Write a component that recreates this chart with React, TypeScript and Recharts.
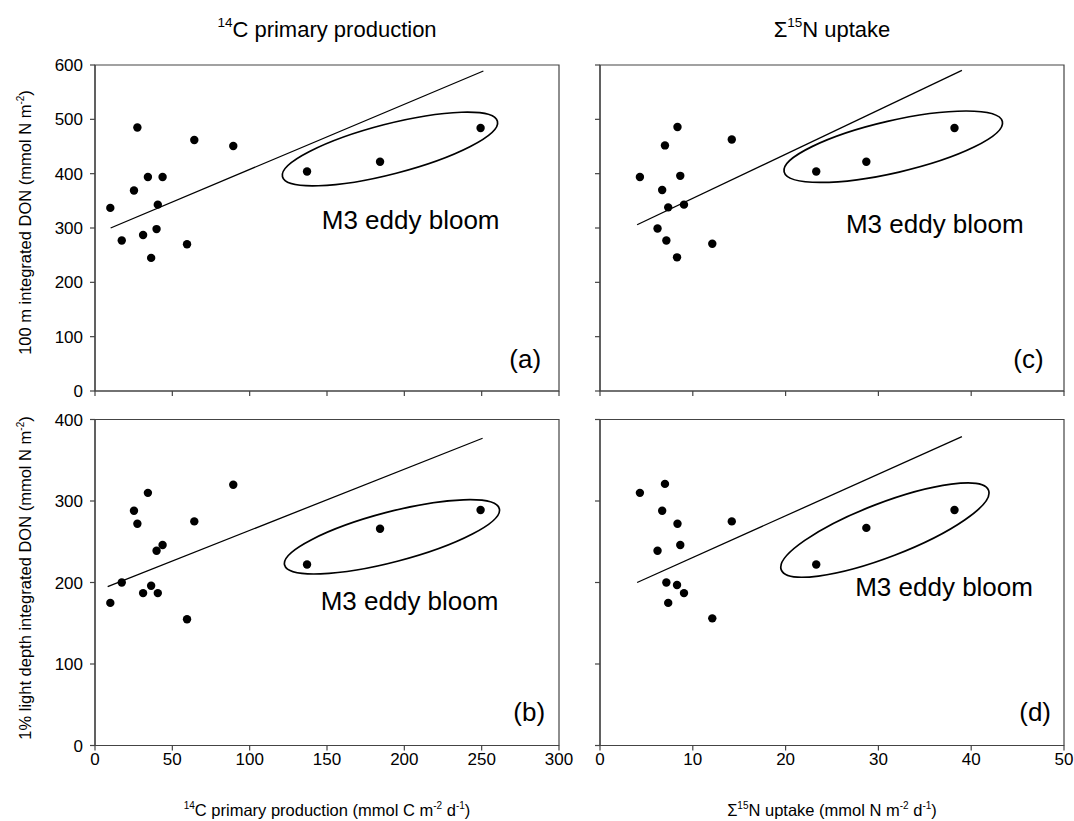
import React from 'react';
import { ScatterChart, Scatter, XAxis, YAxis, ReferenceLine, ReferenceDot, ReferenceArea } from 'recharts';

const W = 1074;
const H = 821;
const FONT = '"Liberation Sans", Arial, Helvetica, sans-serif';
const AXIS = '#444';

// ---------- data ----------
// 14C primary production (mmol C m-2 d-1)
const c14Production = [9.9, 17.3, 25.2, 27.4, 31.1, 34.2, 36.3, 39.8, 40.6, 43.7, 59.5, 64.2, 89.4, 137.1, 184.3, 249.3];
// 100 m integrated DON vs 14C (panel a)
const don100mVsC = [337, 277, 369, 485, 287, 394, 245, 298, 343, 394, 270, 462, 451, 404, 422, 484];
// 1% light depth integrated DON vs 14C (panel b)
const don1pctVsC = [175, 200, 288, 272, 187, 310, 196, 239, 187, 246, 155, 275, 320, 222, 266, 289];

// Σ15N uptake (mmol N m-2 d-1)
const n15Uptake = [4.3, 6.2, 6.7, 7.0, 7.15, 7.35, 8.3, 8.35, 8.65, 9.05, 12.1, 14.2, 23.3, 28.7, 38.2];
// 100 m integrated DON vs 15N (panel c)
const don100mVsN = [394, 299, 370, 452, 277, 338, 246, 486, 396, 343, 271, 463, 404, 422, 484];
// 1% light depth integrated DON vs 15N (panel d)
const don1pctVsN = [310, 239, 288, 321, 200, 175, 197, 272, 246, 187, 156, 275, 222, 267, 289];

// regression line end points
const fitXC = [10.1, 251.1];
const fitYA = [300, 589];
const fitXCb = [8.2, 250.6];
const fitYB = [195, 377];
const fitXN = [4.0, 39.0];
const fitYC = [306, 590];
const fitYD = [200, 379];

// ticks
const cTicks = [0, 50, 100, 150, 200, 250, 300];
const nTicks = [0, 10, 20, 30, 40, 50];
const don100Ticks = [0, 100, 200, 300, 400, 500, 600];
const don1Ticks = [0, 100, 200, 300, 400];

const zip = (xs: number[], ys: number[]) => xs.map((x, i) => ({ x, y: ys[i] }));

type PanelProps = {
  plot: { left: number; top: number; right: number; bottom: number };
  xDomain: [number, number];
  xTicks: number[];
  yDomain: [number, number];
  yTicks: number[];
  data: { x: number; y: number }[];
  fitX: number[];
  fitY: number[];
  ellipse: { x: number; y: number; rx: number; ry: number; angle: number };
  bloom: { x: number; y: number };
  tag: { x: number; y: number; text: string };
  showXLabels: boolean;
  showYLabels: boolean;
};

const tickStyle = { fill: '#000', fontSize: 17, fontFamily: FONT };

function Panel(p: PanelProps) {
  const yAxisW = 60;
  const xAxisH = 30;
  const margin = {
    left: p.plot.left - yAxisW,
    top: p.plot.top,
    right: W - p.plot.right,
    bottom: H - p.plot.bottom - xAxisH,
  };
  const e = p.ellipse;
  return (
    <div style={{ position: 'absolute', left: 0, top: 0 }}>
      <ScatterChart width={W} height={H} margin={margin}>
        <XAxis
          type="number"
          dataKey="x"
          domain={p.xDomain}
          ticks={p.xTicks}
          interval={0}
          height={xAxisH}
          tickSize={5}
          tickMargin={2}
          tick={tickStyle}
          tickFormatter={(v: number) => (p.showXLabels ? String(v) : '')}
          axisLine={{ stroke: AXIS, strokeWidth: 1.2 }}
          tickLine={{ stroke: AXIS, strokeWidth: 1.2 }}
          allowDataOverflow
        />
        <YAxis
          type="number"
          dataKey="y"
          domain={p.yDomain}
          ticks={p.yTicks}
          interval={0}
          width={yAxisW}
          tickSize={5}
          tickMargin={7}
          tick={tickStyle}
          tickFormatter={(v: number) => (p.showYLabels ? String(v) : '')}
          axisLine={{ stroke: AXIS, strokeWidth: 1.2 }}
          tickLine={{ stroke: AXIS, strokeWidth: 1.2 }}
          allowDataOverflow
        />
        <ReferenceArea
          x1={p.xDomain[0]}
          x2={p.xDomain[1]}
          y1={p.yDomain[0]}
          y2={p.yDomain[1]}
          fill="none"
          fillOpacity={0}
          stroke={AXIS}
          strokeWidth={1.2}
          ifOverflow="visible"
        />
        <ReferenceLine
          segment={[
            { x: p.fitX[0], y: p.fitY[0] },
            { x: p.fitX[1], y: p.fitY[1] },
          ]}
          stroke="#000"
          strokeWidth={1.3}
          ifOverflow="visible"
        />
        <ReferenceDot
          x={e.x}
          y={e.y}
          ifOverflow="visible"
          shape={(s: any) => (
            <ellipse
              cx={s.cx}
              cy={s.cy}
              rx={e.rx}
              ry={e.ry}
              transform={`rotate(${e.angle} ${s.cx} ${s.cy})`}
              fill="none"
              stroke="#000"
              strokeWidth={1.7}
            />
          )}
        />
        <ReferenceDot
          x={p.bloom.x}
          y={p.bloom.y}
          ifOverflow="visible"
          shape={(s: any) => (
            <text x={s.cx} y={s.cy} fontSize={26} fontFamily={FONT} fill="#000">
              M3 eddy bloom
            </text>
          )}
        />
        <ReferenceDot
          x={p.tag.x}
          y={p.tag.y}
          ifOverflow="visible"
          shape={(s: any) => (
            <text x={s.cx} y={s.cy} fontSize={26} fontFamily={FONT} fill="#000" textAnchor="end">
              {p.tag.text}
            </text>
          )}
        />
        <Scatter
          data={p.data}
          isAnimationActive={false}
          shape={(s: any) => <circle cx={s.cx} cy={s.cy} r={4.2} fill="#000" />}
        />
      </ScatterChart>
    </div>
  );
}

const SUP = { fontSize: 10 };

export default function App() {
  const plotA = { left: 95, top: 65, right: 559, bottom: 391 };
  const plotC = { left: 600, top: 65, right: 1064, bottom: 391 };
  const plotB = { left: 95, top: 419.5, right: 559, bottom: 745.5 };
  const plotD = { left: 600, top: 419.5, right: 1064, bottom: 745.5 };
  return (
    <div style={{ position: 'absolute', left: 0, top: 0, width: W, height: H, background: '#fff', fontFamily: FONT }}>
      <Panel
        plot={plotA}
        xDomain={[0, 300]}
        xTicks={cTicks}
        yDomain={[0, 600]}
        yTicks={don100Ticks}
        data={zip(c14Production, don100mVsC)}
        fitX={fitXC}
        fitY={fitYA}
        ellipse={{ x: 190.7, y: 445.4, rx: 111, ry: 25, angle: -14.5 }}
        bloom={{ x: 146.6, y: 297.6 }}
        tag={{ x: 288.4, y: 42, text: '(a)' }}
        showXLabels={false}
        showYLabels={true}
      />
      <Panel
        plot={plotB}
        xDomain={[0, 300]}
        xTicks={cTicks}
        yDomain={[0, 400]}
        yTicks={don1Ticks}
        data={zip(c14Production, don1pctVsC)}
        fitX={fitXCb}
        fitY={fitYB}
        ellipse={{ x: 192, y: 256, rx: 111, ry: 25, angle: -14.7 }}
        bloom={{ x: 145.9, y: 166.3 }}
        tag={{ x: 291, y: 30, text: '(b)' }}
        showXLabels={true}
        showYLabels={true}
      />
      <Panel
        plot={plotC}
        xDomain={[0, 50]}
        xTicks={nTicks}
        yDomain={[0, 600]}
        yTicks={don100Ticks}
        data={zip(n15Uptake, don100mVsN)}
        fitX={fitXN}
        fitY={fitYC}
        ellipse={{ x: 31.6, y: 449.6, rx: 112, ry: 26, angle: -13 }}
        bloom={{ x: 26.5, y: 291.3 }}
        tag={{ x: 47.8, y: 42, text: '(c)' }}
        showXLabels={false}
        showYLabels={false}
      />
      <Panel
        plot={plotD}
        xDomain={[0, 50]}
        xTicks={nTicks}
        yDomain={[0, 400]}
        yTicks={don1Ticks}
        data={zip(n15Uptake, don1pctVsN)}
        fitX={fitXN}
        fitY={fitYD}
        ellipse={{ x: 30.7, y: 264.3, rx: 111, ry: 27, angle: -21 }}
        bloom={{ x: 27.5, y: 183.5 }}
        tag={{ x: 48.6, y: 30, text: '(d)' }}
        showXLabels={true}
        showYLabels={false}
      />
      <svg
        width={W}
        height={H}
        style={{ position: 'absolute', left: 0, top: 0, pointerEvents: 'none', whiteSpace: 'pre' }}
        fontFamily={FONT}
        fill="#000"
      >
        <text x={327} y={37} textAnchor="middle" fontSize={22}>
          <tspan fontSize={13.5} dy={-10}>14</tspan>
          <tspan dy={10}>C primary production</tspan>
        </text>
        <text x={832} y={37} textAnchor="middle" fontSize={22}>
          <tspan>Σ</tspan>
          <tspan fontSize={13.5} dy={-10}>15</tspan>
          <tspan dy={10}>N uptake</tspan>
        </text>
        <text x={327} y={816} textAnchor="middle" fontSize={16.5}>
          <tspan style={SUP} dy={-7}>14</tspan>
          <tspan dy={7}>C primary production (mmol C m</tspan>
          <tspan style={SUP} dy={-7}>-2</tspan>
          <tspan dy={7}>{' d'}</tspan>
          <tspan style={SUP} dy={-7}>-1</tspan>
          <tspan dy={7}>)</tspan>
        </text>
        <text x={832} y={816} textAnchor="middle" fontSize={16.5}>
          <tspan>Σ</tspan>
          <tspan style={SUP} dy={-7}>15</tspan>
          <tspan dy={7}>N uptake (mmol N m</tspan>
          <tspan style={SUP} dy={-7}>-2</tspan>
          <tspan dy={7}>{' d'}</tspan>
          <tspan style={SUP} dy={-7}>-1</tspan>
          <tspan dy={7}>)</tspan>
        </text>
        <text transform="translate(31,222.5) rotate(-90)" textAnchor="middle" fontSize={16.5}>
          <tspan>100 m integrated DON (mmol N m</tspan>
          <tspan style={SUP} dy={-7}>-2</tspan>
          <tspan dy={7}>)</tspan>
        </text>
        <text transform="translate(31,578) rotate(-90)" textAnchor="middle" fontSize={16.5}>
          <tspan>1% light depth integrated DON (mmol N m</tspan>
          <tspan style={SUP} dy={-7}>-2</tspan>
          <tspan dy={7}>)</tspan>
        </text>
      </svg>
    </div>
  );
}
